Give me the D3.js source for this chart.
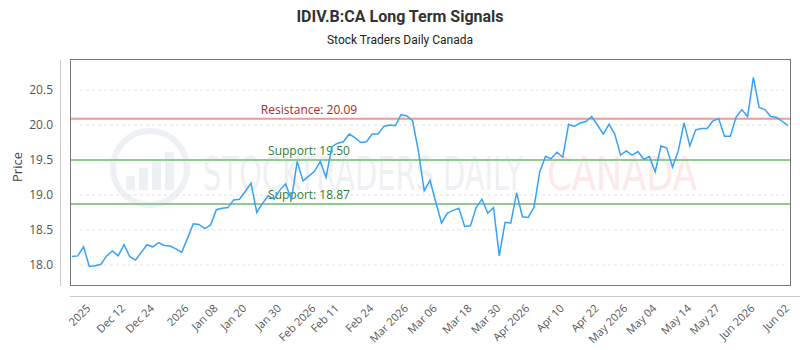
<!DOCTYPE html>
<html lang="en">
<head>
    <meta charset="UTF-8">
    <title>IDIV.B:CA Long Term Signals</title>
    <script src="https://cdn.jsdelivr.net/npm/d3@7"></script>
    <style>
        body { margin: 0; background: #fff; }
        text { font-family: "Open Sans", "DejaVu Sans", sans-serif; }
    </style>
</head>
<body>
<div id="chart"></div>

<script type="text/javascript">
    // closing prices, one per trading day
    var prices = [
        18.12, 18.13, 18.26, 17.98, 17.99, 18.01, 18.13, 18.20, 18.13, 18.29,
        18.12, 18.07, 18.18, 18.29, 18.26, 18.32, 18.28, 18.27, 18.23, 18.18,
        18.38, 18.59, 18.58, 18.52, 18.57, 18.79, 18.81, 18.82, 18.93, 18.94,
        19.05, 19.17, 18.75, 18.88, 18.99, 18.94, 19.07, 19.16, 18.93, 19.48,
        19.20, 19.27, 19.34, 19.48, 19.25, 19.69, 19.74, 19.76, 19.87, 19.82,
        19.75, 19.76, 19.87, 19.87, 19.98, 20.00, 19.99, 20.15, 20.13, 20.06,
        19.62, 19.06, 19.21, 18.90, 18.60, 18.74, 18.78, 18.81, 18.55, 18.56,
        18.82, 18.94, 18.74, 18.82, 18.13, 18.61, 18.60, 19.03, 18.69, 18.68,
        18.82, 19.33, 19.55, 19.52, 19.61, 19.54, 20.01, 19.98, 20.03, 20.05,
        20.12, 20.00, 19.87, 20.01, 19.87, 19.57, 19.63, 19.57, 19.62, 19.51,
        19.55, 19.33, 19.70, 19.67, 19.40, 19.63, 20.03, 19.70, 19.93, 19.95,
        19.95, 20.06, 20.09, 19.84, 19.84, 20.11, 20.22, 20.12, 20.68, 20.25,
        20.22, 20.12, 20.11, 20.05, 19.99
    ];

    // x axis labels and the day index each one sits on
    var tickLabels = ['2025', 'Dec 12', 'Dec 24', '2026', 'Jan 08', 'Jan 20', 'Jan 30',
        'Feb 2026', 'Feb 11', 'Feb 24', 'Mar 2026', 'Mar 06', 'Mar 18', 'Mar 30',
        'Apr 2026', 'Apr 10', 'Apr 22', 'May 2026', 'May 04', 'May 14', 'May 27',
        'Jun 2026', 'Jun 02'];
    var tickIdx = [3, 9, 14, 20, 25, 30, 36, 42, 46, 52, 58, 63, 69, 74,
        79, 85, 91, 96, 101, 107, 112, 118, 124];

    var yTicks = [18.0, 18.5, 19.0, 19.5, 20.0, 20.5];

    var levels = [
        {name: 'Resistance', value: 20.09},
        {name: 'Support', value: 19.50},
        {name: 'Support', value: 18.87}
    ];

    var w = 800;
    var h = 350;
    var box = {left: 70, right: 790, top: 60, bottom: 286};

    var svg = d3.select('#chart').append('svg')
            .attr('width', w)
            .attr('height', h);

    var x = d3.scaleLinear()
            .domain([0, prices.length - 1])
            .range([72, 788]);

    // 0.5 of price = 35px
    var y = d3.scaleLinear()
            .domain([18, 20.5])
            .range([265, 90]);

    // titles
    svg.append('text')
            .attr('x', 400).attr('y', 22)
            .attr('text-anchor', 'middle')
            .style('font-family', 'Roboto, sans-serif')
            .style('font-size', '16px')
            .style('font-weight', 'bold')
            .attr('fill', '#333')
            .text('IDIV.B:CA Long Term Signals');

    svg.append('text')
            .attr('x', 400).attr('y', 44)
            .attr('text-anchor', 'middle')
            .style('font-family', 'Roboto, sans-serif')
            .style('font-size', '12px')
            .attr('fill', '#222')
            .text('Stock Traders Daily Canada');

    // watermark
    var wm = svg.append('g').attr('opacity', 0.4);
    wm.append('circle')
            .attr('cx', 150).attr('cy', 168).attr('r', 37)
            .attr('fill', 'none')
            .attr('stroke', '#d4dbe8')
            .attr('stroke-width', 6);
    wm.selectAll('rect.wmbar')
            .data([14, 22, 30, 38])
            .enter()
            .append('rect')
            .attr('x', function(d, i) { return 126 + i * 13; })
            .attr('y', function(d) { return 190 - d; })
            .attr('width', 9)
            .attr('height', function(d) { return d; })
            .attr('fill', '#d4dbe8');
    wm.append('text')
            .attr('x', 203).attr('y', 190)
            .attr('textLength', 320)
            .attr('lengthAdjust', 'spacingAndGlyphs')
            .style('font-family', '"DejaVu Sans", sans-serif')
            .style('font-size', '46px')
            .attr('fill', '#d6dce6')
            .text('STOCKTRADERS DAILY');
    wm.append('text')
            .attr('x', 547).attr('y', 190)
            .attr('textLength', 150)
            .attr('lengthAdjust', 'spacingAndGlyphs')
            .style('font-family', '"DejaVu Sans", sans-serif')
            .style('font-size', '46px')
            .attr('fill', '#fbcaca')
            .text('CANADA');

    // grid
    svg.selectAll('line.grid')
            .data(yTicks)
            .enter()
            .append('line')
            .attr('class', 'grid')
            .attr('x1', 80).attr('x2', 784)
            .attr('y1', function(d) { return y(d); })
            .attr('y2', function(d) { return y(d); })
            .attr('stroke', '#e2e2e2')
            .attr('stroke-dasharray', '3,3');

    // frame and axis lines
    svg.append('rect')
            .attr('x', box.left + 0.5).attr('y', box.top - 0.5)
            .attr('width', box.right - box.left)
            .attr('height', box.bottom - box.top)
            .attr('fill', 'none')
            .attr('stroke', '#777');
    svg.append('line')
            .attr('x1', 60.5).attr('x2', 60.5)
            .attr('y1', 60).attr('y2', 286)
            .attr('stroke', '#ccc');
    svg.append('line')
            .attr('x1', 70).attr('x2', 800)
            .attr('y1', 296.5).attr('y2', 296.5)
            .attr('stroke', '#ccc');

    // y labels
    svg.selectAll('text.ylab')
            .data(yTicks)
            .enter()
            .append('text')
            .attr('class', 'ylab')
            .attr('x', 53)
            .attr('y', function(d) { return y(d); })
            .attr('dy', '0.35em')
            .attr('text-anchor', 'end')
            .style('font-size', '12px')
            .attr('fill', '#555')
            .text(function(d) { return d.toFixed(1); });

    svg.append('text')
            .attr('transform', 'translate(22,167) rotate(-90)')
            .attr('text-anchor', 'middle')
            .style('font-size', '13px')
            .attr('fill', '#444')
            .text('Price');

    // x labels
    svg.selectAll('text.xlab')
            .data(tickIdx)
            .enter()
            .append('text')
            .attr('class', 'xlab')
            .attr('transform', function(d) {
                return 'translate(' + (x(d) + 2) + ',309) rotate(-45)';
            })
            .attr('text-anchor', 'end')
            .style('font-size', '11px')
            .attr('fill', '#555')
            .text(function(d, i) { return tickLabels[i]; });

    // support / resistance
    svg.selectAll('line.level')
            .data(levels)
            .enter()
            .append('line')
            .attr('class', 'level')
            .attr('x1', box.left + 1).attr('x2', box.right)
            .attr('y1', function(d) { return y(d.value); })
            .attr('y2', function(d) { return y(d.value); })
            .attr('stroke', function(d) {
                return d.name === 'Resistance' ? '#eb9a9a' : '#90ca90';
            })
            .attr('stroke-width', 2);

    svg.selectAll('text.level')
            .data(levels)
            .enter()
            .append('text')
            .attr('class', 'level')
            .attr('x', 309)
            .attr('y', function(d) { return y(d.value) - 5; })
            .attr('text-anchor', 'middle')
            .style('font-size', '12px')
            .attr('fill', function(d) {
                return d.name === 'Resistance' ? '#a52a2a' : '#2e7d32';
            })
            .text(function(d) { return d.name + ': ' + d.value.toFixed(2); });

    // price line
    var line = d3.line()
            .x(function(d, i) { return x(i); })
            .y(function(d) { return y(d); });

    svg.append('path')
            .datum(prices)
            .attr('d', line)
            .attr('fill', 'none')
            .attr('stroke', '#36a2f5')
            .attr('stroke-width', 1.5);
</script>
</body>
</html>
